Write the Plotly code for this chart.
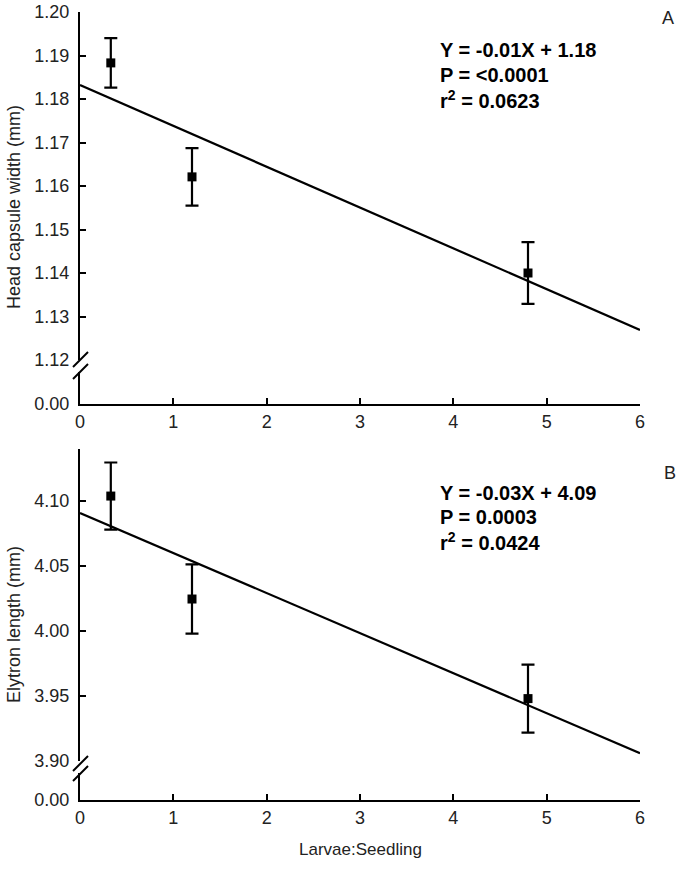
import plotly.graph_objects as go

# ---------------- data ----------------
ratio = [0.33, 1.2, 4.8]                      # Larvae:Seedling
head_width = [1.1883, 1.1621, 1.1400]         # mm
head_err = [0.0057, 0.0066, 0.0071]
elytron_len = [4.1038, 4.0246, 3.9480]        # mm
elytron_err = [0.0258, 0.0266, 0.0262]

fit_x = [0, 6]
fit_head = [1.1832, 1.1269]
fit_elytron = [4.0908, 3.9060]

x_ticks = [0, 1, 2, 3, 4, 5, 6]
head_ticks = [1.12, 1.13, 1.14, 1.15, 1.16, 1.17, 1.18, 1.19, 1.20]
elytron_ticks = [3.90, 3.95, 4.00, 4.05, 4.10]

eq_A = ["Y = -0.01X + 1.18", "P = <0.0001", "r<sup>2</sup> = 0.0623"]
eq_B = ["Y = -0.03X + 4.09", "P = 0.0003", "r<sup>2</sup> = 0.0424"]

# ---------------- layout helpers ----------------
W, H = 680, 871
L, R = 80, 40
PW = W - L - R
FONT = "Liberation Sans, Arial, sans-serif"
TXT = "#222"


def py(pix):
    return 1 - pix / H


def px(pix):
    return (pix - L) / PW


fig = go.Figure()

# Panel A
fig.add_trace(go.Scatter(x=fit_x, y=fit_head, mode="lines",
                         line=dict(color="black", width=2.2),
                         xaxis="x", yaxis="y", showlegend=False, hoverinfo="skip"))
fig.add_trace(go.Scatter(x=ratio, y=head_width, mode="markers",
                         marker=dict(symbol="square", size=9, color="black"),
                         error_y=dict(type="data", array=head_err, color="black",
                                      thickness=2.2, width=6.5),
                         xaxis="x", yaxis="y", showlegend=False))
# stub axis (broken-axis lower part) needs a trace reference to be drawn
fig.add_trace(go.Scatter(x=[], y=[], xaxis="x", yaxis="y2", showlegend=False))
# Panel B
fig.add_trace(go.Scatter(x=fit_x, y=fit_elytron, mode="lines",
                         line=dict(color="black", width=2.2),
                         xaxis="x2", yaxis="y3", showlegend=False, hoverinfo="skip"))
fig.add_trace(go.Scatter(x=ratio, y=elytron_len, mode="markers",
                         marker=dict(symbol="square", size=9, color="black"),
                         error_y=dict(type="data", array=elytron_err, color="black",
                                      thickness=2.2, width=6.5),
                         xaxis="x2", yaxis="y3", showlegend=False))
fig.add_trace(go.Scatter(x=[], y=[], xaxis="x2", yaxis="y4", showlegend=False))

axis_common = dict(showline=True, linecolor="black", linewidth=2.2,
                   ticks="inside", ticklen=6, tickwidth=2, tickcolor="black",
                   showgrid=False, zeroline=False, automargin=False,
                   tickfont=dict(family=FONT, size=18, color=TXT))
y_common = dict(ticklabelstandoff=5, **axis_common)
x_common = dict(ticklabelstandoff=0, **axis_common)

fig.update_layout(
    template="none",
    width=W, height=H,
    margin=dict(l=L, r=R, t=0, b=0, pad=0, autoexpand=False),
    paper_bgcolor="white", plot_bgcolor="white",
    font=dict(family=FONT, color=TXT),
    showlegend=False,
    xaxis=dict(domain=[0, 1], range=[0, 6], anchor="y2",
               tickvals=x_ticks, ticktext=[str(v) for v in x_ticks], **x_common),
    yaxis=dict(domain=[py(360), py(12)], range=[1.12, 1.20], anchor="x",
               tickvals=head_ticks, ticktext=[f"{v:.2f}" for v in head_ticks],
               **y_common),
    yaxis2=dict(domain=[py(404), py(372)], range=[0, 1], anchor="x",
                tickvals=[0], ticktext=["0.00"], **y_common),
    xaxis2=dict(domain=[0, 1], range=[0, 6], anchor="y4",
                tickvals=x_ticks, ticktext=[str(v) for v in x_ticks], **x_common),
    yaxis3=dict(domain=[py(761), py(449)], range=[3.90, 4.14], anchor="x2",
                tickvals=elytron_ticks, ticktext=[f"{v:.2f}" for v in elytron_ticks],
                **y_common),
    yaxis4=dict(domain=[py(800), py(773)], range=[0, 1], anchor="x2",
                tickvals=[0], ticktext=["0.00"], **y_common),
)

# axis break marks
shapes = []
for (y0, y1) in [(367, 352), (379, 364), (771, 756), (781, 766)]:
    shapes.append(dict(type="line", xref="paper", yref="paper",
                       x0=px(73), x1=px(88), y0=py(y0), y1=py(y1),
                       line=dict(color="black", width=2)))
fig.update_layout(shapes=shapes)


def note(text, x, y, size, color=TXT, angle=0, xanchor="center"):
    return dict(text=text, x=px(x), y=py(y), xref="paper", yref="paper",
                xanchor=xanchor, yanchor="middle", textangle=angle, showarrow=False,
                font=dict(family=FONT, size=size, color=color))


ann = []
for i, t in enumerate(eq_A):
    ann.append(note(f"<b>{t}</b>", 438, 50 + 25 * i, 20, "black", xanchor="left"))
for i, t in enumerate(eq_B):
    ann.append(note(f"<b>{t}</b>", 438, 493 + 24 * i, 20, "black", xanchor="left"))
ann.append(note("A", 668, 18, 18))
ann.append(note("B", 670, 473, 18))
ann.append(note("Head capsule width (mm)", 14, 207, 18, angle=-90))
ann.append(note("Elytron length (mm)", 14, 625, 18, angle=-90))
ann.append(note("Larvae:Seedling", 360, 849, 17))
fig.update_layout(annotations=ann)

fig.write_html("out.html", config={"displayModeBar": False},
               post_script="document.body.style.margin='0';")
